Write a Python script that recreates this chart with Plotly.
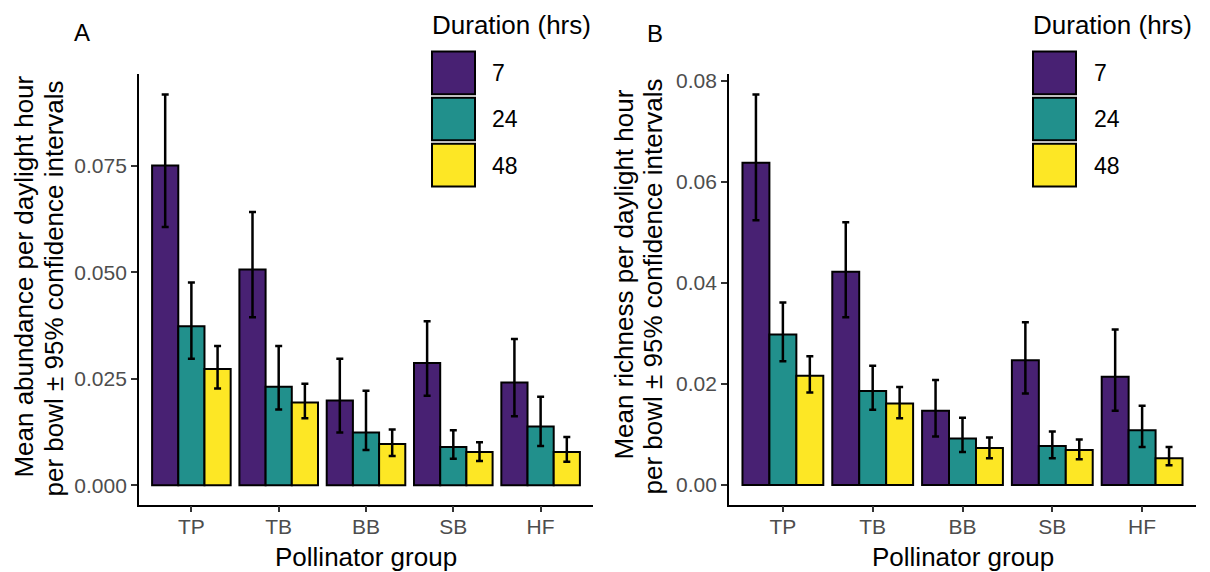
import plotly.graph_objects as go

W, H = 1210, 572

groups = ["TP", "TB", "BB", "SB", "HF"]
durations = ["7", "24", "48"]
colors = ["#482173", "#21908C", "#FDE725"]

# Panel A: abundance (mean, lower CI, upper CI)
abund_mean_7 = [0.0750, 0.0506, 0.0199, 0.0287, 0.0241]
abund_lo_7 = [0.0606, 0.0394, 0.0124, 0.0210, 0.0162]
abund_hi_7 = [0.0917, 0.0641, 0.0297, 0.0385, 0.0343]
abund_mean_24 = [0.0373, 0.0231, 0.0124, 0.0090, 0.0138]
abund_lo_24 = [0.0297, 0.0178, 0.0083, 0.0062, 0.0092]
abund_hi_24 = [0.0476, 0.0327, 0.0222, 0.0129, 0.0208]
abund_mean_48 = [0.0273, 0.0194, 0.0097, 0.0078, 0.0078]
abund_lo_48 = [0.0227, 0.0157, 0.0069, 0.0057, 0.0055]
abund_hi_48 = [0.0327, 0.0238, 0.0131, 0.0101, 0.0113]

# Panel B: richness (mean, lower CI, upper CI)
rich_mean_7 = [0.0638, 0.0422, 0.0147, 0.0247, 0.0214]
rich_lo_7 = [0.0524, 0.0332, 0.0096, 0.0181, 0.0147]
rich_hi_7 = [0.0773, 0.0520, 0.0208, 0.0322, 0.0308]
rich_mean_24 = [0.0298, 0.0186, 0.0092, 0.0077, 0.0108]
rich_lo_24 = [0.0245, 0.0149, 0.0065, 0.0053, 0.0075]
rich_hi_24 = [0.0361, 0.0236, 0.0133, 0.0106, 0.0157]
rich_mean_48 = [0.0216, 0.0161, 0.0073, 0.0069, 0.0053]
rich_lo_48 = [0.0183, 0.0132, 0.0053, 0.0051, 0.0039]
rich_hi_48 = [0.0255, 0.0194, 0.0094, 0.0090, 0.0075]

left_ticks = [0, 0.025, 0.05, 0.075]
left_ticktext = ["0.000", "0.025", "0.050", "0.075"]
right_ticks = [0, 0.02, 0.04, 0.06, 0.08]
right_ticktext = ["0.00", "0.02", "0.04", "0.06", "0.08"]

FONT = "Liberation Sans, Arial, sans-serif"

def px(x):
    return x / W

def py(y):
    return 1 - y / H

fig = go.Figure()

panels = [
    ("x", "y", [(abund_mean_7, abund_lo_7, abund_hi_7),
                (abund_mean_24, abund_lo_24, abund_hi_24),
                (abund_mean_48, abund_lo_48, abund_hi_48)]),
    ("x2", "y2", [(rich_mean_7, rich_lo_7, rich_hi_7),
                  (rich_mean_24, rich_lo_24, rich_hi_24),
                  (rich_mean_48, rich_lo_48, rich_hi_48)]),
]

for xa, ya, series in panels:
    for i, (m, lo, hi) in enumerate(series):
        fig.add_trace(go.Bar(
            x=groups, y=m, name=durations[i], xaxis=xa, yaxis=ya,
            offsetgroup=str(i),
            marker=dict(color=colors[i], line=dict(color="black", width=2)),
            error_y=dict(type="data", symmetric=False,
                         array=[h - v for h, v in zip(hi, m)],
                         arrayminus=[v - l for v, l in zip(m, lo)],
                         color="black", thickness=2.5, width=3.5),
            showlegend=False,
        ))

axis_common = dict(
    showline=True, linecolor="black", linewidth=1.8,
    ticks="outside", ticklen=6, tickwidth=1.5, tickcolor="#333333",
    tickfont=dict(family=FONT, size=21, color="#4D4D4D"),
    showgrid=False, zeroline=False, fixedrange=True,
)

fig.update_layout(
    width=W, height=H,
    margin=dict(l=0, r=0, t=0, b=0),
    paper_bgcolor="white", plot_bgcolor="white",
    barmode="group", bargap=0.1, bargroupgap=0,
    font=dict(family=FONT, color="black"),
    xaxis=dict(domain=[px(139), px(593)], anchor="y", type="category",
               range=[-0.6, 4.6], ticklabelstandoff=-4, **axis_common),
    yaxis=dict(domain=[py(504), py(70)], anchor="x",
               range=[-0.00453, 0.0964], tickvals=left_ticks,
               ticktext=left_ticktext, **axis_common),
    xaxis2=dict(domain=[px(729), px(1196)], anchor="y2", type="category",
                range=[-0.6, 4.6], ticklabelstandoff=-4, **axis_common),
    yaxis2=dict(domain=[py(504), py(70)], anchor="x2",
                range=[-0.0039, 0.0813], tickvals=right_ticks,
                ticktext=right_ticktext, **axis_common),
)

ann = []
# panel letters
ann.append(dict(text="A", x=px(82), y=py(28), xref="paper", yref="paper",
                showarrow=False, xanchor="center", yanchor="middle",
                font=dict(size=24, color="black")))
ann.append(dict(text="B", x=px(655), y=py(29), xref="paper", yref="paper",
                showarrow=False, xanchor="center", yanchor="middle",
                font=dict(size=24, color="black")))

# y titles (two lines each)
ytitles = [
    ("Mean abundance per daylight hour", 24, 274),
    ("per bowl ± 95% confidence intervals", 53, 286),
    ("Mean richness per daylight hour", 624, 272),
    ("per bowl ± 95% confidence intervals", 653, 284),
]
for t, x, y in ytitles:
    ann.append(dict(text=t, x=px(x), y=py(y), xref="paper", yref="paper",
                    showarrow=False, textangle=-90, xanchor="center",
                    yanchor="middle", font=dict(size=26, color="black")))

# x titles
for x in (366, 963):
    ann.append(dict(text="Pollinator group", x=px(x), y=py(557), xref="paper",
                    yref="paper", showarrow=False, xanchor="center",
                    yanchor="middle", font=dict(size=26, color="black")))

# legends
shapes = []
for lx, labx in ((432, 490), (1033, 1092)):
    ann.append(dict(text="Duration (hrs)", x=px(lx - 2), y=py(20), xref="paper",
                    yref="paper", showarrow=False, xanchor="left",
                    yanchor="middle", font=dict(size=26, color="black")))
    for i, d in enumerate(durations):
        top = 47 + i * 46.5
        shapes.append(dict(type="rect", xref="paper", yref="paper",
                           x0=px(lx), x1=px(lx + 43), y0=py(top + 43), y1=py(top),
                           fillcolor=colors[i], line=dict(color="black", width=2)))
        ann.append(dict(text=d, x=px(labx), y=py(top + 22), xref="paper",
                        yref="paper", showarrow=False, xanchor="left",
                        yanchor="middle", font=dict(size=23, color="black")))

fig.update_layout(annotations=ann, shapes=shapes)

fig.write_html("out.html")
